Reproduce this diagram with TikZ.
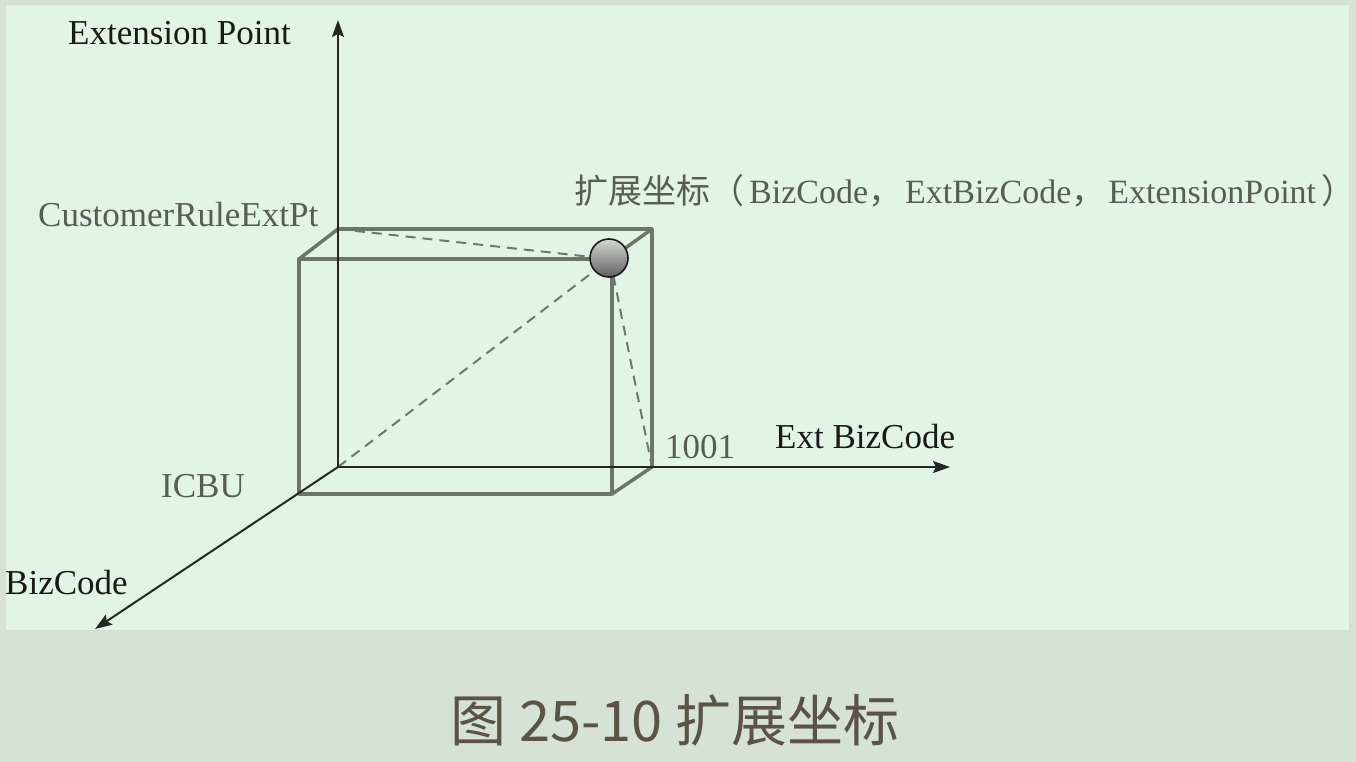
\documentclass[tikz,border=0pt]{standalone}
\usepackage{fontspec}
\setmainfont{Liberation Serif}
\newfontfamily\cjk{Noto Sans CJK SC}
\usetikzlibrary{arrows.meta}
\definecolor{bgout}{HTML}{D6E2D6}
\definecolor{panel}{HTML}{E2F4E5}
\definecolor{edgecol}{HTML}{6B756C}
\definecolor{dashcol}{HTML}{6E786F}
\definecolor{lab}{HTML}{575C57}
\definecolor{capcol}{HTML}{5A5346}
\begin{document}
\begin{tikzpicture}[x=1pt,y=-1pt,
  lbl/.style={inner sep=0pt, anchor=base west, font=\fontsize{35}{40}\selectfont},
  edgeline/.style={draw=edgecol, line width=3.5pt, line join=round, line cap=round},
  axisline/.style={draw=black!85, line width=2pt, -{Stealth[length=17pt,width=12pt,inset=3pt]}},
  dashln/.style={draw=dashcol, line width=2pt, dash pattern=on 10pt off 7pt}
]
\useasboundingbox (0,0) rectangle (1356,762);
\fill[bgout] (0,0) rectangle (1356,762);
\filldraw[fill=panel, draw=panel!92!black, line width=1pt] (5,5) rectangle (1349,630);

% cube corners
\coordinate (O) at (338,467);
\coordinate (BTL) at (338,229);
\coordinate (BTR) at (652,229);
\coordinate (BBR) at (652,467);
\coordinate (FTL) at (299,259);
\coordinate (FTR) at (610,259);
\coordinate (FBR) at (612,494);
\coordinate (FBL) at (299,494);
\coordinate (ztip) at (338,20);
\coordinate (xtip) at (950,467);
\coordinate (btip) at (95,629);

% dashed lines
\draw[dashln] (BTL) -- (FTR);
\draw[dashln] (O) -- (FTR);
\draw[dashln] (FTR) -- (BBR);

% box edges
\draw[edgeline] (BTL) -- (BTR) -- (BBR);
\draw[edgeline] (FTL) -- (FTR);
\draw[edgeline] (612,259) -- (FBR) -- (FBL) -- (FTL);
\draw[edgeline] (FTL) -- (BTL);
\draw[edgeline] (FTR) -- (BTR);
\draw[edgeline] (FBR) -- (BBR);

% axes
\draw[axisline] (O) -- (ztip);
\draw[axisline] (O) -- (xtip);
\draw[axisline] (O) -- (btip);

% point
\node[circle, minimum size=38pt, inner sep=0pt, draw=black!90, line width=1.6pt,
      top color=black!15!green!3!white!85!black, bottom color=black!62] (P) at (609,258) {};

% labels
\node[lbl, text=black!90] (ep) at (68,45) {Extension Point};
\node[lbl, text=lab] (cr) at (38,226) {CustomerRuleExtPt};
\node[lbl, text=lab, font=\fontsize{34}{40}\selectfont] (tt) at (574,204)
  {{\cjk 扩展坐标（}\hspace{5pt}BizCode{\cjk ，}\hspace{3pt}ExtBizCode{\cjk ，}\hspace{3pt}ExtensionPoint\hspace{5pt}{\cjk ）}};
\node[lbl, text=lab] (n1001) at (665,458) {1001};
\node[lbl, text=black!90] (ebc) at (775,448) {Ext BizCode};
\node[lbl, text=lab] (icbu) at (161,497) {ICBU};
\node[lbl, text=black!90] (bc) at (5,594) {BizCode};

% caption
\node[inner sep=0pt, font=\cjk\fontsize{56}{60}\selectfont, text=capcol] (cap) at (675,720) {图 25-10 扩展坐标};
\end{tikzpicture}
\end{document}
